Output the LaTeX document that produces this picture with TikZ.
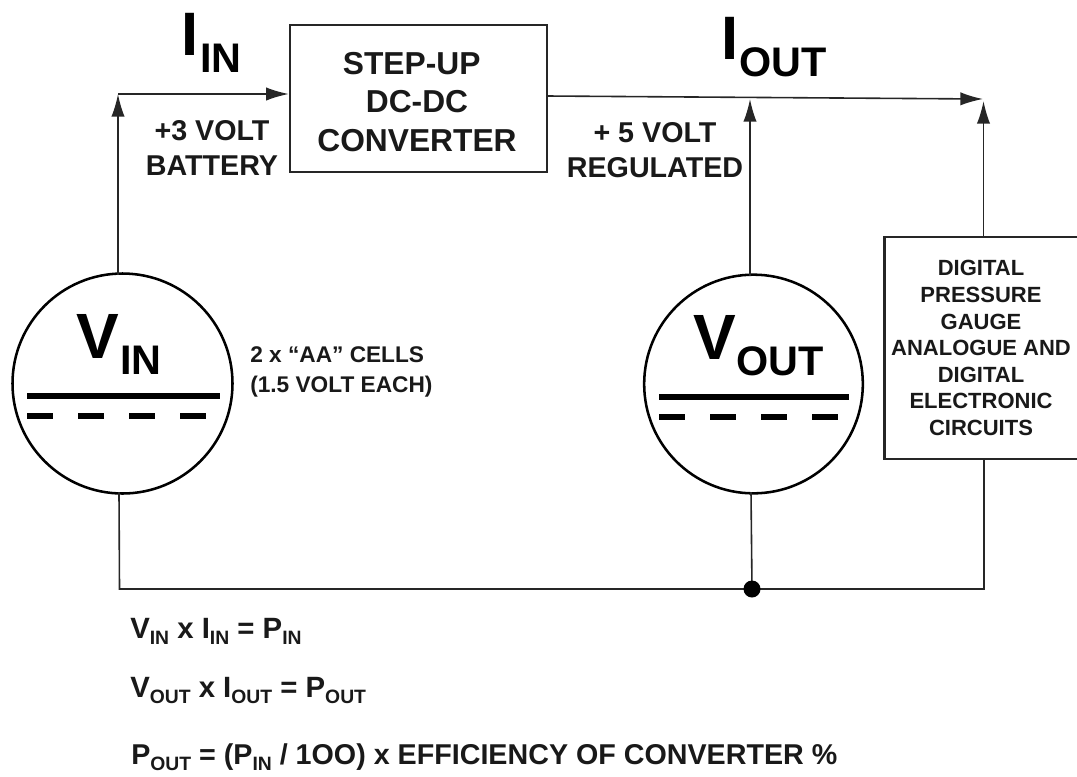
\documentclass[tikz,border=0pt]{standalone}
\usepackage{fontspec}
\setmainfont{Liberation Sans}
\usetikzlibrary{arrows.meta}
\tikzset{
wire/.style={draw=black!85,line width=1.2pt},
arr/.style={wire,-{Latex[length=17pt,width=10pt]}},
boxn/.style={draw=black!85,line width=1.8pt,fill=white,inner sep=0pt},
circ/.style={circle,draw=black,line width=1.9pt,fill=white,minimum size=165pt,inner sep=0pt},
lbl/.style={font=\bfseries\fontsize{23.8}{29}\selectfont,align=center,text=black!90,inner sep=0pt},
mid/.style={font=\bfseries\fontsize{21.5}{26}\selectfont,align=center,text=black!90,inner sep=0pt},
small/.style={font=\bfseries\fontsize{16.5}{19.9}\selectfont,align=center,text=black!90,inner sep=0pt},
cur/.style={font=\bfseries\fontsize{46}{46}\selectfont,inner sep=0pt,anchor=base west},
subl/.style={font=\bfseries\fontsize{31}{31}\selectfont,inner sep=0pt,anchor=base west},
volt/.style={font=\bfseries\fontsize{48}{48}\selectfont,inner sep=0pt,anchor=base west},
eq/.style={font=\bfseries\fontsize{22}{24}\selectfont,inner sep=0pt,anchor=base west,text=black!90},
bar/.style={line width=4.3pt},
dashbar/.style={line width=4.6pt,dash pattern=on 19.3pt off 19pt},
}
\newcommand{\sbs}[1]{\raisebox{-5pt}{\fontsize{14.5}{15}\selectfont #1}}
\begin{document}
\begin{tikzpicture}[x=0.75pt,y=-0.75pt]
\useasboundingbox (0,0) rectangle (1077,776);
\node[circ,minimum size=165pt] (vin) at (122.5,383.5) {};
\node[circ,minimum size=164pt] (vout) at (753.5,384) {};
\node[boxn,minimum width=192.75pt,minimum height=110.25pt] (conv) at (418.5,98.5) {};
\node[boxn,minimum width=160pt,minimum height=166.5pt] (dig) at (991,348) {};
\coordinate (a) at (118,94);
\coordinate (a0) at (118,275);
\coordinate (e0) at (547,96);
\coordinate (e1) at (983,99);
\coordinate (v0) at (750,276);
\coordinate (v1) at (750,99);
\coordinate (j) at (752,589);
\coordinate (vb) at (751,492);
\coordinate (bt) at (119,492);
\coordinate (bl) at (119.5,589);
\coordinate (br) at (984,589);
\coordinate (dt) at (983.5,237);
\coordinate (d1) at (983.5,101);
\coordinate (db) at (984,459);
\draw[arr] (a0) -- (a);
\draw[arr] (a) -- (conv.west |- a);
\draw[arr] (e0) -- (e1);
\draw[arr] (v0) -- (v1);
\draw[arr] (dt) -- (d1);
\draw[wire] (bt) -- (bl) -- (br) -- (db);
\draw[wire] (vb) -- (j);
\fill[black] (j) circle (8.5);
\node[lbl] (t1) at (417,102) {STEP-UP\hspace*{8pt}\\DC-DC\hspace*{8pt}\\CONVERTER};
\node[mid] (t2) at (212,148) {+3 VOLT\\BATTERY};
\node[mid] (t3) at (655,150) {+ 5 VOLT\\REGULATED};
\node[small] (t4) at (981,348) {DIGITAL\\PRESSURE\\GAUGE\\ANALOGUE AND\\DIGITAL\\ELECTRONIC\\CIRCUITS};
\node[font=\bfseries\fontsize{17}{22}\selectfont,align=left,inner sep=0pt,anchor=west,text=black!90] (t5) at (250,372) {2 x “AA” CELLS\\(1.5 VOLT EACH)};
\node[cur] (iin) at (181,55) {I};
\node[subl] (iins) at (200,72) {IN};
\node[cur] (iout) at (721,59) {I};
\node[subl] (iouts) at (739,76) {OUT};
\node[volt] (v1t) at (76,358) {V};
\node[subl] (v1s) at (120,374) {IN};
\node[volt] (v2t) at (693,359) {V};
\node[subl] (v2s) at (736,375) {OUT};
\coordinate (s1a) at (27,396); \coordinate (s1b) at (220,396);
\coordinate (s2a) at (659,397); \coordinate (s2b) at (849,397);
\draw[bar] (s1a) -- (s1b);
\draw[bar] (s2a) -- (s2b);
\coordinate (d1a) at (27,416); \coordinate (d1b) at (207,416);
\coordinate (d2a) at (659,417); \coordinate (d2b) at (838,417);
\draw[dashbar] (d1a) -- (d1b);
\draw[dashbar] (d2a) -- (d2b);
\node[eq] (e1t) at (130,638) {V\sbs{IN} x I\sbs{IN} = P\sbs{IN}};
\node[eq] (e2t) at (130,697) {V\sbs{OUT} x I\sbs{OUT} = P\sbs{OUT}};
\node[eq,font=\bfseries\fontsize{21.5}{24}\selectfont] (e3t) at (131,764) {P\sbs{OUT} = (P\sbs{IN} / 1OO) x EFFICIENCY OF CONVERTER \%};
\end{tikzpicture}
\end{document}
